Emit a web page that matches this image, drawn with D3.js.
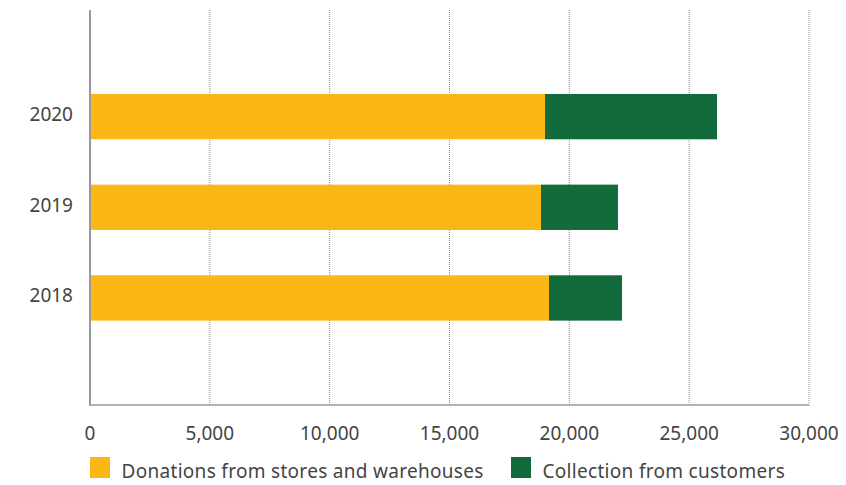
<!DOCTYPE html>
<html>
<head>
<meta charset="utf-8">
<script src="https://cdn.jsdelivr.net/npm/d3@7"></script>
<style>
  html, body { margin: 0; padding: 0; background: #fff; }
  svg { display: block; font-family: "Noto Sans", "Open Sans", sans-serif; }
</style>
</head>
<body>
<svg id="chart" width="846" height="485"></svg>
<script>
const years = ["2020", "2019", "2018"];
const donations = [18985, 18818, 19152];
const collection = [7176, 3212, 3045];
const seriesNames = ["Donations from stores and warehouses", "Collection from customers"];
const seriesColors = ["#FBB715", "#116B3A"];
const xTicks = [0, 5000, 10000, 15000, 20000, 25000, 30000];

(function () {
const svg = d3.select("#chart");
const x = d3.scaleLinear().domain([0, 30000]).range([90, 809]);
const y = d3.scaleBand().domain(years).range([71.3, 343.3]).paddingInner(0.5).paddingOuter(0.25);
const plotTop = 10, plotBottom = 405;

// gridlines
svg.append("g").selectAll("line").data(xTicks.slice(1)).join("line")
  .attr("x1", d => x(d)).attr("x2", d => x(d))
  .attr("y1", plotTop).attr("y2", plotBottom)
  .attr("stroke", "#8a8a8a").attr("stroke-width", 1)
  .attr("stroke-dasharray", "1,1");

// bars
const data = years.map((yr, i) => ({ yr, a: donations[i], b: collection[i] }));
const g = svg.append("g");
g.selectAll("rect.a").data(data).join("rect").attr("class", "a")
  .attr("x", x(0)).attr("y", d => y(d.yr))
  .attr("width", d => x(d.a) - x(0)).attr("height", y.bandwidth())
  .attr("fill", seriesColors[0]);
g.selectAll("rect.b").data(data).join("rect").attr("class", "b")
  .attr("x", d => x(d.a)).attr("y", d => y(d.yr))
  .attr("width", d => x(d.a + d.b) - x(d.a)).attr("height", y.bandwidth())
  .attr("fill", seriesColors[1]);

// axes lines
svg.append("line").attr("x1", 90).attr("x2", 90).attr("y1", plotTop).attr("y2", plotBottom + 0.5)
  .attr("stroke", "#999").attr("stroke-width", 2);
svg.append("line").attr("x1", 89).attr("x2", 809).attr("y1", plotBottom).attr("y2", plotBottom)
  .attr("stroke", "#999").attr("stroke-width", 1.5);

// x tick labels
svg.append("g").selectAll("text").data(xTicks).join("text")
  .attr("x", d => x(d)).attr("y", 439.5)
  .attr("text-anchor", "middle")
  .attr("font-size", 19).attr("fill", "#444")
  .text(d => d3.format(",")(d));

// y labels
svg.append("g").selectAll("text").data(years).join("text")
  .attr("x", 73).attr("y", d => y(d) + y.bandwidth() / 2 + 4.5)
  .attr("text-anchor", "end")
  .attr("font-size", 19).attr("fill", "#444")
  .text(d => d);

// legend
const legendX = [90, 511];
const lg = svg.append("g").selectAll("g").data(seriesNames).join("g")
  .attr("transform", (d, i) => `translate(${legendX[i]},457)`);
lg.append("rect").attr("width", 20).attr("height", 21).attr("fill", (d, i) => seriesColors[i]);
lg.append("text").attr("x", 31.5).attr("y", 21.3)
  .attr("font-size", 19).attr("letter-spacing", 0.3).attr("fill", "#444").text(d => d);
})();
</script>
</body>
</html>
